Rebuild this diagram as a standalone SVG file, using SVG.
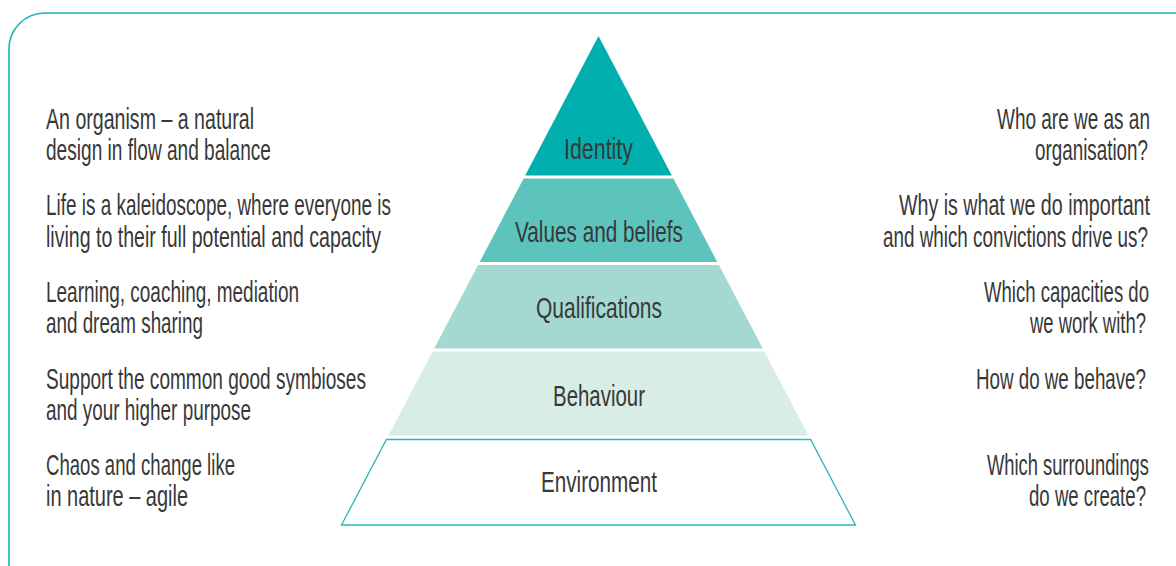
<svg xmlns="http://www.w3.org/2000/svg" width="1176" height="566" viewBox="0 0 1176 566">
  <style>
    text { font-family: "Liberation Sans", Arial, sans-serif; font-size: 29px; fill: #383838; text-anchor: start; }
    .c { text-anchor: middle; }
    .rt { font-size: 19px; }
    .frame { fill: none; stroke: #1db3b3; stroke-width: 1.6; }
  </style>
  <rect width="1176" height="566" fill="#ffffff"/>
  <path class="frame" d="M9,572 L9,49 A36,36 0 0 1 45,13 L1182,13"/>

  <g id="pyramid">
    <g id="identity">
      <polygon points="598.5,36 671.8,175.5 525.2,175.5" fill="#00afae"/>
      <text class="c" x="598.5" y="159" textLength="69" lengthAdjust="spacingAndGlyphs">Identity</text>
    </g>
    <g id="values">
      <polygon points="523.6,178.5 673.4,178.5 717.3,262 479.7,262" fill="#5cc4bc"/>
      <text class="c" x="599" y="242" textLength="168" lengthAdjust="spacingAndGlyphs">Values and beliefs</text>
    </g>
    <g id="qualifications">
      <polygon points="478.1,265 718.9,265 762.8,348.5 434.2,348.5" fill="#a4d9d1"/>
      <text class="c" x="599" y="318" textLength="126" lengthAdjust="spacingAndGlyphs">Qualifications</text>
    </g>
    <g id="behaviour">
      <polygon points="432.7,351.5 764.3,351.5 808.5,435.5 388.5,435.5" fill="#d7ede6"/>
      <text class="c" x="599" y="406" textLength="92" lengthAdjust="spacingAndGlyphs">Behaviour</text>
    </g>
    <g id="environment">
      <polygon points="386.4,439.5 810.6,439.5 855.5,525 341.5,525" fill="#ffffff" stroke="#2ab7b5" stroke-width="1.3"/>
      <text class="c" x="599" y="492" textLength="116" lengthAdjust="spacingAndGlyphs">Environment</text>
    </g>
  </g>

  <g id="left-texts">
    <g id="left-identity">
      <text x="46" y="129" textLength="208" lengthAdjust="spacingAndGlyphs">An organism – a natural</text>
      <text x="46" y="160" textLength="225" lengthAdjust="spacingAndGlyphs">design in flow and balance</text>
    </g>
    <g id="left-values">
      <text x="46" y="215" textLength="345" lengthAdjust="spacingAndGlyphs">Life is a kaleidoscope, where everyone is</text>
      <text x="46" y="247" textLength="335" lengthAdjust="spacingAndGlyphs">living to their full potential and capacity</text>
    </g>
    <g id="left-qualifications">
      <text x="46" y="302" textLength="253" lengthAdjust="spacingAndGlyphs">Learning, coaching, mediation</text>
      <text x="46" y="333" textLength="157" lengthAdjust="spacingAndGlyphs">and dream sharing</text>
    </g>
    <g id="left-behaviour">
      <text x="46" y="389" textLength="320" lengthAdjust="spacingAndGlyphs">Support the common good symbioses</text>
      <text x="46" y="420" textLength="205" lengthAdjust="spacingAndGlyphs">and your higher purpose</text>
    </g>
    <g id="left-environment">
      <text x="46" y="475" textLength="189" lengthAdjust="spacingAndGlyphs">Chaos and change like</text>
      <text x="46" y="506" textLength="142" lengthAdjust="spacingAndGlyphs">in nature – agile</text>
    </g>
  </g>

  <g id="right-texts" transform="scale(1,1.5263)">
    <g id="right-identity">
      <text class="rt" x="997" y="84.52" textLength="153" lengthAdjust="spacingAndGlyphs">Who are we as an</text>
      <text class="rt" x="1035" y="104.83" textLength="113" lengthAdjust="spacingAndGlyphs">organisation?</text>
    </g>
    <g id="right-values">
      <text class="rt" x="899" y="140.86" textLength="251" lengthAdjust="spacingAndGlyphs">Why is what we do important</text>
      <text class="rt" x="883" y="161.83" textLength="265" lengthAdjust="spacingAndGlyphs">and which convictions drive us?</text>
    </g>
    <g id="right-qualifications">
      <text class="rt" x="984" y="197.86" textLength="165" lengthAdjust="spacingAndGlyphs">Which capacities do</text>
      <text class="rt" x="1030" y="218.17" textLength="116" lengthAdjust="spacingAndGlyphs">we work with?</text>
    </g>
    <g id="right-behaviour">
      <text class="rt" x="976" y="254.87" textLength="170" lengthAdjust="spacingAndGlyphs">How do we behave?</text>
    </g>
    <g id="right-environment">
      <text class="rt" x="987" y="311.21" textLength="162" lengthAdjust="spacingAndGlyphs">Which surroundings</text>
      <text class="rt" x="1029" y="331.52" textLength="117" lengthAdjust="spacingAndGlyphs">do we create?</text>
    </g>
  </g>

  <g id="connectors"/>
</svg>
